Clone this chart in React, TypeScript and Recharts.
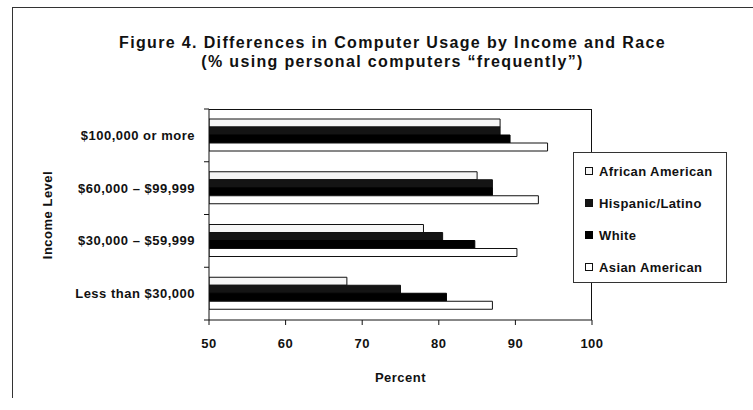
import { BarChart, Bar, XAxis, YAxis } from 'recharts';

const incomeLevels = [
  '$100,000 or more',
  '$60,000 – $99,999',
  '$30,000 – $59,999',
  'Less than $30,000'
];

const africanAmerican = [88, 85, 78, 68];
const hispanicLatino = [88, 87, 80.5, 75];
const white = [89.3, 87, 84.7, 81];
const asianAmerican = [94.2, 93, 90.2, 87];

const percentTicks = [50, 60, 70, 80, 90, 100];

const SERIES = [
  { key: 'africanAmerican', name: 'African American', fill: '#f6f6f6', stroke: '#111' },
  { key: 'hispanicLatino', name: 'Hispanic/Latino', fill: '#141414', stroke: '#111' },
  { key: 'white', name: 'White', fill: '#000', stroke: '#000' },
  { key: 'asianAmerican', name: 'Asian American', fill: '#fff', stroke: '#111' }
];

const data = incomeLevels.map((level, i) => ({
  level,
  africanAmerican: africanAmerican[i],
  hispanicLatino: hispanicLatino[i],
  white: white[i],
  asianAmerican: asianAmerican[i]
}));

const FONT = '"Liberation Sans", Arial, Helvetica, sans-serif';
const TEXT = { fontFamily: FONT, fontWeight: 'bold', fontSize: 13, letterSpacing: 0.5, fill: '#111' };
const TOP = 109;
const BOTTOM = 320;
const AXIS_X = 209;
const RIGHT = 592;
const BAND = (BOTTOM - TOP) / incomeLevels.length;

const CategoryTick = (props: any) => {
  const { y, payload, index } = props;
  return (
    <g>
      <line x1={AXIS_X - 5} x2={AXIS_X} y1={y - BAND / 2} y2={y - BAND / 2} stroke="#111" />
      {index === incomeLevels.length - 1 && (
        <line x1={AXIS_X - 5} x2={AXIS_X} y1={y + BAND / 2} y2={y + BAND / 2} stroke="#111" />
      )}
      <text x={AXIS_X - 14} y={y} dy="0.35em" textAnchor="end" style={TEXT}>
        {payload.value}
      </text>
    </g>
  );
};

const LegendBox = () => (
  <div
    style={{
      position: 'absolute',
      left: 573,
      top: 152,
      width: 154,
      height: 131,
      boxSizing: 'border-box',
      border: '1px solid #333',
      background: '#fff',
      padding: '2px 0 0 11px',
      fontFamily: FONT,
      fontWeight: 'bold',
      fontSize: 13,
      letterSpacing: 0.4,
      color: '#111'
    }}
  >
    {SERIES.map((s) => (
      <div key={s.key} style={{ display: 'flex', alignItems: 'center', height: 32 }}>
        <span
          style={{
            display: 'inline-block',
            width: 8,
            height: 8,
            boxSizing: 'border-box',
            border: `1px solid ${s.stroke}`,
            background: s.fill,
            marginRight: 6
          }}
        />
        {s.name}
      </div>
    ))}
  </div>
);

export default function App() {
  return (
    <div style={{ position: 'absolute', left: 0, top: 0, width: 753, height: 410, background: '#fff' }}>
      <div
        style={{
          position: 'absolute',
          left: 12,
          top: 7,
          width: 741,
          height: 390,
          borderTop: '1px solid #333',
          borderLeft: '1px solid #333'
        }}
      />
      <div
        style={{
          position: 'absolute',
          left: 0,
          top: 33,
          width: 785,
          textAlign: 'center',
          fontFamily: FONT,
          fontWeight: 'bold',
          fontSize: 16,
          letterSpacing: 1.35,
          lineHeight: '19px',
          color: '#111'
        }}
      >
        Figure 4. Differences in Computer Usage by Income and Race
        <br />
        (% using personal computers “frequently”)
      </div>
      <div style={{ position: 'absolute', left: 0, top: 0 }}>
        <BarChart
          width={753}
          height={410}
          data={data}
          layout="vertical"
          margin={{ top: TOP, right: 753 - RIGHT, bottom: 0, left: 0 }}
          barSize={8}
          barGap={0}
        >
          <XAxis
            type="number"
            domain={[50, 100]}
            ticks={percentTicks}
            allowDataOverflow
            height={410 - BOTTOM}
            stroke="#111"
            tickSize={5}
            tickMargin={14}
            tick={TEXT}
            label={{
              value: 'Percent',
              position: 'insideBottom',
              offset: 28,
              style: TEXT
            }}
          />
          <YAxis
            type="category"
            dataKey="level"
            width={AXIS_X}
            stroke="#111"
            tickLine={false}
            tick={<CategoryTick />}
            interval={0}
            label={{
              content: () => (
                <text
                  x={47}
                  y={215}
                  transform="rotate(-90 47 215)"
                  textAnchor="middle"
                  dy="0.35em"
                  style={TEXT}
                >
                  Income Level
                </text>
              )
            }}
          />
          {SERIES.map((s) => (
            <Bar
              key={s.key}
              dataKey={s.key}
              name={s.name}
              fill={s.fill}
              stroke={s.stroke}
              strokeWidth={1}
              isAnimationActive={false}
            />
          ))}
        </BarChart>
      </div>
      <div
        style={{
          position: 'absolute',
          left: AXIS_X,
          top: TOP,
          width: RIGHT - AXIS_X,
          height: BOTTOM - TOP,
          boxSizing: 'border-box',
          borderTop: '1px solid #111',
          borderRight: '1px solid #111',
          pointerEvents: 'none'
        }}
      />
      <LegendBox />
    </div>
  );
}
